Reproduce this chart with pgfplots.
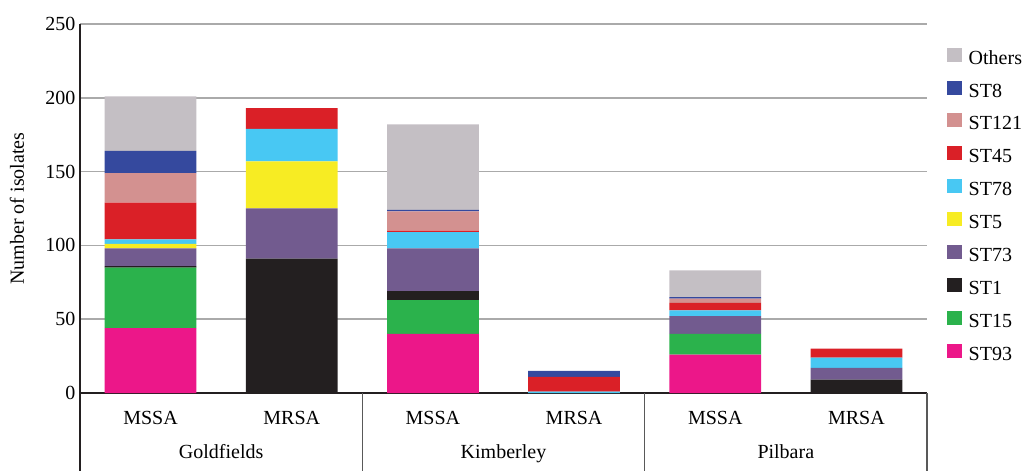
\documentclass[border=0pt]{standalone}
\usepackage{pgfplots}
\pgfplotsset{compat=1.18}
\usepackage{pgfplotstable}
\usepackage{fontspec}
\setmainfont{Liberation Serif}
\definecolor{cST93}{HTML}{EC1789}
\definecolor{cST15}{HTML}{2BB24C}
\definecolor{cST1}{HTML}{231F20}
\definecolor{cST73}{HTML}{725B8F}
\definecolor{cST5}{HTML}{F7EC23}
\definecolor{cST78}{HTML}{48C8F3}
\definecolor{cST45}{HTML}{DA2027}
\definecolor{cST121}{HTML}{D39190}
\definecolor{cST8}{HTML}{35499E}
\definecolor{cOthers}{HTML}{C4BFC4}
\definecolor{gridc}{RGB}{170,170,170}
\pgfplotstableread{
x ST93 ST15 ST1 ST73 ST5 ST78 ST45 ST121 ST8 Others
0 44 41 1 12 3 3 25 20 15 37
1 0 0 91 34 32 22 14 0 0 0
2 40 23 6 29 0 11 1 13 1 58
3 0 0 0 0 0 1 10 0 4 0
4 26 14 0 12 0 4 5 3 1 18
5 0 0 9 8 0 7 6 0 0 0
}\datatable
\newcommand{\fs}{\fontsize{20}{24}\selectfont}
\begin{document}
\begin{tikzpicture}
\useasboundingbox (0pt,0pt) rectangle (1025pt,471pt);
\begin{axis}[
  at={(80pt,78pt)}, anchor=south west,
  width=847pt, height=369pt, scale only axis,
  ybar stacked, bar width=0.65,
  xmin=-0.5, xmax=5.5, ymin=0, ymax=250,
  xtick={0,1,2,3,4,5},
  xticklabels={MSSA,MRSA,MSSA,MRSA,MSSA,MRSA},
  ytick={0,50,100,150,200,250},
  major tick length=0pt,
  axis lines*=left,
  axis line style={line width=1.5pt, color=cST1},
  ymajorgrids, grid style={line width=1.5pt, color=gridc},
  /pgf/number format/assume math mode=true,
  tick label style={font=\fs},
  xticklabel style={anchor=base, yshift=-31pt},
  yticklabel style={anchor=east, xshift=-1pt},
  ylabel={Number of isolates},
  ylabel style={font=\fs, at={(axis description cs:-0.0744,0.5)}, anchor=center},
  clip=false,
  reverse legend,
  legend style={draw=none, fill=none, at={(axis description cs:1.0233,0.9358)}, anchor=north west,
    font=\fs, inner sep=0pt, outer sep=0pt, row sep=12.4pt, column sep=7pt,
    nodes={inner sep=0pt, text height=14pt, text depth=4pt}},
  legend cell align=left,
  legend image code/.code={\path[#1,draw=none] (0pt,-2.5pt) rectangle (15pt,11.5pt);},
]
\addplot[fill=cST93, draw=none] table[x=x,y=ST93]{\datatable};
\addplot[fill=cST15, draw=none] table[x=x,y=ST15]{\datatable};
\addplot[fill=cST1, draw=none] table[x=x,y=ST1]{\datatable};
\addplot[fill=cST73, draw=none] table[x=x,y=ST73]{\datatable};
\addplot[fill=cST5, draw=none] table[x=x,y=ST5]{\datatable};
\addplot[fill=cST78, draw=none] table[x=x,y=ST78]{\datatable};
\addplot[fill=cST45, draw=none] table[x=x,y=ST45]{\datatable};
\addplot[fill=cST121, draw=none] table[x=x,y=ST121]{\datatable};
\addplot[fill=cST8, draw=none] table[x=x,y=ST8]{\datatable};
\addplot[fill=cOthers, draw=none] table[x=x,y=Others]{\datatable};
\legend{ST93,ST15,ST1,ST73,ST5,ST78,ST45,ST121,ST8,Others}
\draw[line width=1.5pt, color=cST1] (axis cs:-0.5,0) -- ++(0pt,-80pt);
\draw[line width=1.5pt, color=black!65] (axis cs:1.5,0) -- ++(0pt,-80pt);
\draw[line width=1.5pt, color=black!65] (axis cs:3.5,0) -- ++(0pt,-80pt);
\draw[line width=1.5pt, color=black!65] (axis cs:5.5,0) -- ++(0pt,-80pt);
\node[anchor=base, font=\fs, yshift=-65pt] at (axis cs:0.5,0) {Goldfields};
\node[anchor=base, font=\fs, yshift=-65pt] at (axis cs:2.5,0) {Kimberley};
\node[anchor=base, font=\fs, yshift=-65pt] at (axis cs:4.5,0) {Pilbara};
\end{axis}
\end{tikzpicture}
\end{document}
